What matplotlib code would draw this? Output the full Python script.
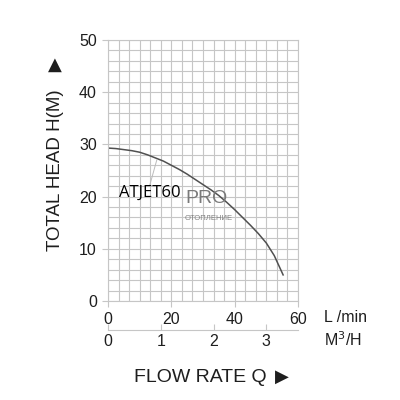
import matplotlib
matplotlib.use("Agg")
import matplotlib.pyplot as plt
import numpy as np

plt.rcParams["font.family"] = ["Liberation Sans", "DejaVu Sans"]

# curve (flow in L/min, head in m)
flow_lmin = [0, 2.5, 5, 7.5, 10, 12.5, 15, 17.5, 20, 22.5, 25, 27.5, 30,
             32.5, 35, 37.5, 40, 42.5, 45, 47.5, 50, 52.5, 55.3]
head_m = [29.3, 29.2, 29.0, 28.8, 28.5, 28.0, 27.4, 26.8, 26.0, 25.2, 24.3,
          23.3, 22.3, 21.3, 20.2, 18.9, 17.5, 16.0, 14.5, 12.9, 11.1, 8.7, 5.0]
x_ticks = [0, 20, 40, 60]
y_ticks = [0, 10, 20, 30, 40, 50]
m3h_ticks = [0, 1, 2, 3]
model = "ATJET60"

grid_col = "#c6c6c6"
txt_col = "#1e1e1e"

fig = plt.figure(figsize=(4, 4), dpi=100)
ax = fig.add_axes([0.27, 0.2475, 0.475, 0.6525])

ax.set_xlim(0, 60)
ax.set_ylim(0, 50)
ax.set_xticks(np.arange(0, 60.01, 60 / 18), minor=True)
ax.set_yticks(np.arange(0, 50.01, 2), minor=True)
ax.set_xticks(x_ticks)
ax.set_yticks(y_ticks)
ax.grid(which="both", color=grid_col, lw=0.8)
ax.set_axisbelow(True)
for s in ax.spines.values():
    s.set_color(grid_col)
    s.set_linewidth(0.8)
ax.tick_params(which="minor", length=0)
ax.tick_params(which="major", length=4, color=grid_col, labelsize=11.5,
               labelcolor=txt_col, pad=4)

ax.plot(flow_lmin, head_m, color="#505050", lw=1.1, solid_joinstyle="round")

# model label with leader line
ax.plot([13.2, 15.4], [22.2, 27.0], color="#bbbbbb", lw=0.7)
ax.text(3.6, 20.8, model, fontsize=12, color="black", va="center", ha="left",
        family="Open Sans")

# watermark
ax.text(24.5, 19.6, "PRO", fontsize=14, color="#7a7a7a", va="center",
        ha="left")
ax.text(24.2, 15.9, "ОТОПЛЕНИЕ", fontsize=5.5, color="#808080",
        va="center", ha="left")

# second flow scale in m3/h
sec = ax.secondary_xaxis(-0.11, functions=(lambda q: q * 0.06, lambda q: q / 0.06))
sec.set_xticks(m3h_ticks)
sec.spines["bottom"].set_color(grid_col)
sec.spines["bottom"].set_linewidth(0.8)
sec.tick_params(direction="in", length=4, color=grid_col, labelsize=11.5,
                labelcolor=txt_col, pad=3)

fig.text(0.81, 0.205, "L /min", fontsize=11.5, color=txt_col, va="center")
fig.text(0.81, 0.152, "M$^3$/H", fontsize=11.5, color=txt_col, va="center")

fig.text(0.50, 0.057, "FLOW RATE Q", fontsize=14, color=txt_col,
         ha="center", va="center")
fig.text(0.705, 0.059, "\u25B6", fontsize=13, color=txt_col, family="DejaVu Sans",
         ha="center", va="center")
fig.text(0.138, 0.575, "TOTAL HEAD H(M)", fontsize=13.5, color=txt_col,
         ha="center", va="center", rotation=90)
fig.text(0.136, 0.837, "\u25B2", fontsize=13, color=txt_col, family="DejaVu Sans",
         ha="center", va="center")

fig.savefig("out.png", dpi=100, facecolor="white")
